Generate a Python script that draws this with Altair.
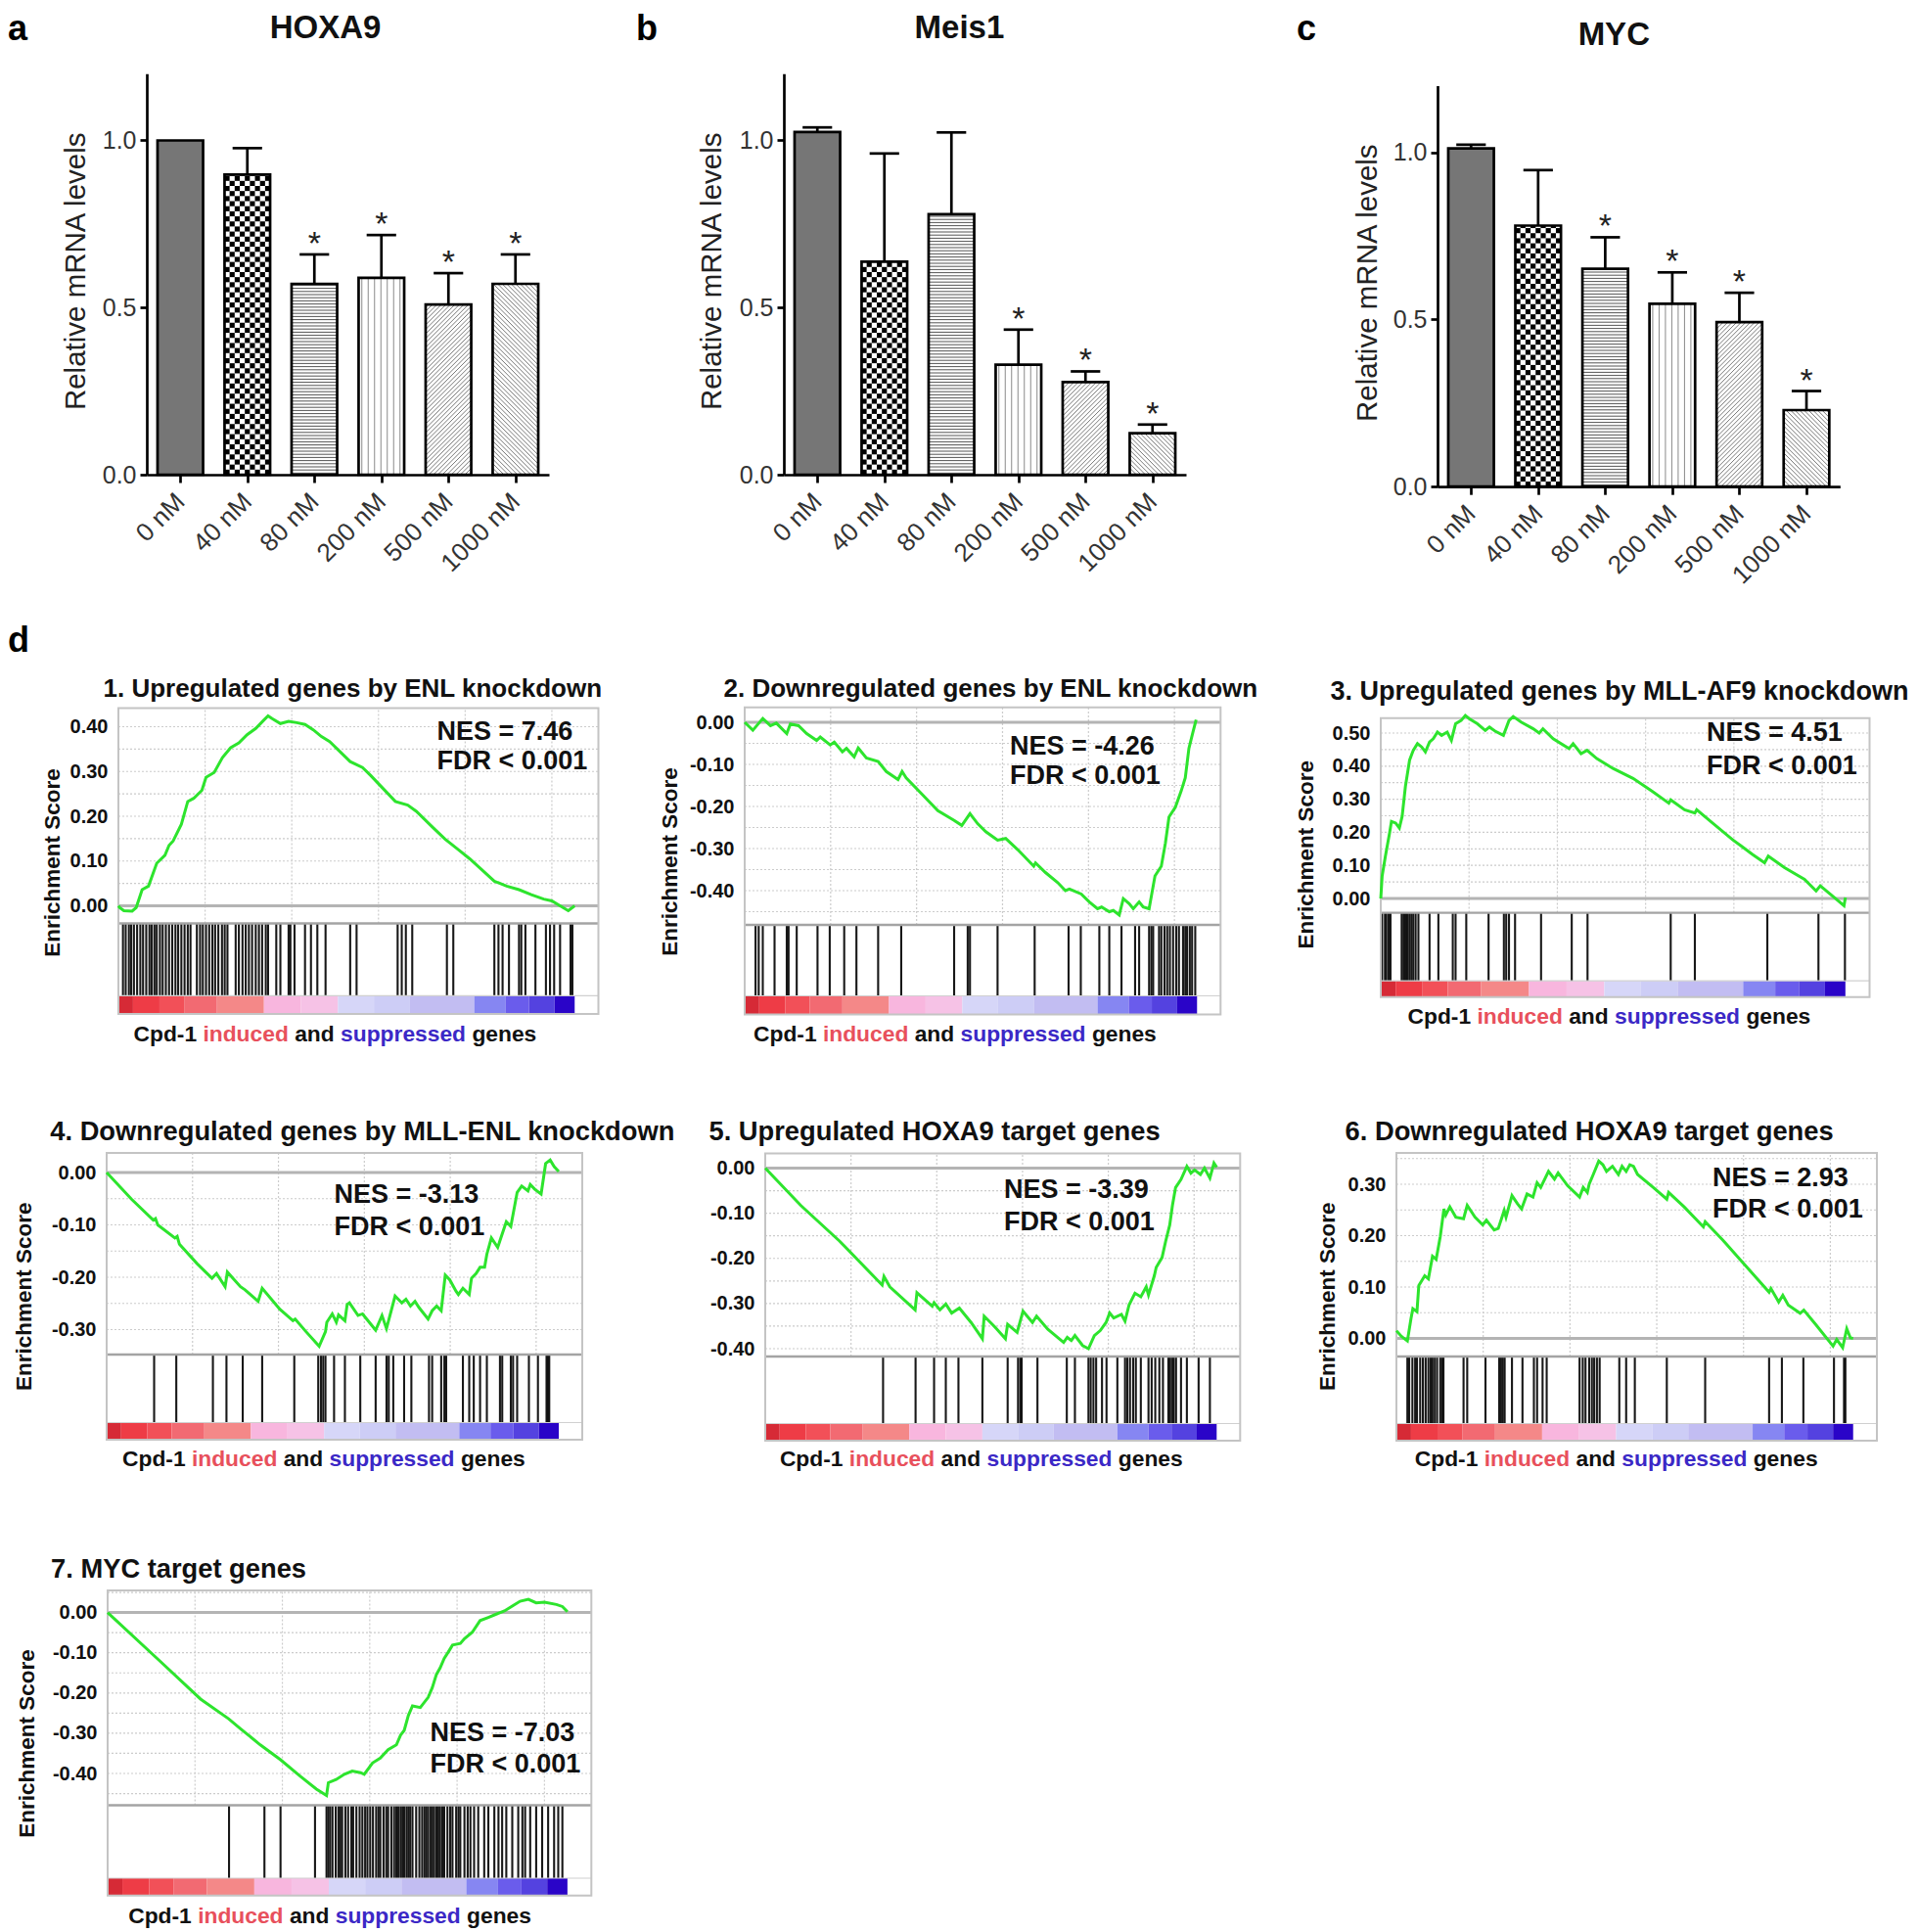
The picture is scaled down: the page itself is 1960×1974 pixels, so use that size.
import math
import altair as alt
import pandas as pd

FONT = "Liberation Sans"

# ---------------- panels a-c : qPCR bar charts ----------------
CONC = ["0 nM", "40 nM", "80 nM", "200 nM", "500 nM", "1000 nM"]
HOXA9_MEAN = [1.0, 0.898, 0.571, 0.589, 0.509, 0.571]
HOXA9_TOP = [1.0, 0.977, 0.659, 0.717, 0.603, 0.659]
HOXA9_SIG = [False, False, True, True, True, True]
MEIS1_MEAN = [1.025, 0.637, 0.779, 0.329, 0.277, 0.124]
MEIS1_TOP = [1.039, 0.961, 1.024, 0.434, 0.309, 0.150]
MEIS1_SIG = [False, False, False, True, True, True]
MYC_MEAN = [1.012, 0.781, 0.652, 0.547, 0.492, 0.229]
MYC_TOP = [1.023, 0.947, 0.746, 0.641, 0.580, 0.286]
MYC_SIG = [False, False, True, True, True, True]
BAR_YTICKS = [0.0, 0.5, 1.0]

# ---------------- panel d : GSEA running enrichment scores ----------------
G1_X = [0, 0.003, 0.012, 0.030, 0.039, 0.052, 0.066, 0.084, 0.102, 0.111, 0.120, 0.138, 0.152, 0.165, 0.183, 0.192, 0.210, 0.228, 0.246, 0.264, 0.282, 0.301, 0.319, 0.328, 0.337, 0.355, 0.373, 0.391, 0.409, 0.427, 0.445, 0.463, 0.481, 0.508, 0.535, 0.553, 0.580, 0.607, 0.634, 0.653, 0.689, 0.716, 0.743, 0.770, 0.797, 0.824, 0.851, 0.878, 0.905, 0.932, 0.950, 0.968, 0.986, 1.000]
G1_ES = [0, -0.004, -0.011, -0.012, -0.004, 0.036, 0.044, 0.095, 0.113, 0.135, 0.145, 0.182, 0.233, 0.240, 0.258, 0.287, 0.298, 0.331, 0.353, 0.364, 0.382, 0.396, 0.415, 0.424, 0.418, 0.407, 0.412, 0.409, 0.405, 0.393, 0.378, 0.367, 0.349, 0.322, 0.309, 0.291, 0.262, 0.233, 0.225, 0.211, 0.175, 0.149, 0.127, 0.105, 0.080, 0.055, 0.044, 0.036, 0.025, 0.015, 0.011, 0.0, -0.011, 0.0]
G1_HITS = [0.010, 0.016, 0.023, 0.028, 0.034, 0.041, 0.048, 0.054, 0.061, 0.068, 0.073, 0.079, 0.084, 0.091, 0.097, 0.104, 0.111, 0.118, 0.125, 0.131, 0.138, 0.145, 0.152, 0.158, 0.172, 0.179, 0.185, 0.192, 0.199, 0.206, 0.212, 0.219, 0.227, 0.233, 0.239, 0.257, 0.264, 0.272, 0.279, 0.286, 0.293, 0.301, 0.308, 0.315, 0.323, 0.328, 0.346, 0.355, 0.373, 0.377, 0.386, 0.409, 0.422, 0.436, 0.454, 0.508, 0.522, 0.612, 0.621, 0.630, 0.644, 0.720, 0.734, 0.824, 0.833, 0.842, 0.856, 0.878, 0.883, 0.892, 0.914, 0.937, 0.946, 0.955, 0.968, 0.991, 0.995]

G2_X = [0, 0.018, 0.040, 0.057, 0.070, 0.093, 0.101, 0.119, 0.137, 0.159, 0.167, 0.189, 0.198, 0.216, 0.225, 0.242, 0.251, 0.269, 0.295, 0.313, 0.339, 0.348, 0.357, 0.392, 0.427, 0.463, 0.480, 0.498, 0.515, 0.533, 0.559, 0.577, 0.604, 0.639, 0.643, 0.665, 0.692, 0.709, 0.718, 0.744, 0.762, 0.780, 0.789, 0.806, 0.815, 0.828, 0.837, 0.850, 0.859, 0.872, 0.881, 0.894, 0.907, 0.921, 0.930, 0.938, 0.952, 0.965, 0.974, 0.982, 0.991, 0.998]
G2_ES = [0, -0.019, 0.009, -0.008, -0.002, -0.027, -0.004, -0.008, -0.027, -0.043, -0.035, -0.054, -0.047, -0.070, -0.062, -0.082, -0.061, -0.085, -0.093, -0.117, -0.136, -0.117, -0.132, -0.171, -0.210, -0.233, -0.245, -0.217, -0.241, -0.260, -0.280, -0.276, -0.303, -0.342, -0.334, -0.357, -0.381, -0.400, -0.396, -0.408, -0.427, -0.443, -0.439, -0.450, -0.447, -0.458, -0.419, -0.431, -0.443, -0.427, -0.439, -0.443, -0.365, -0.342, -0.287, -0.225, -0.202, -0.163, -0.132, -0.062, -0.023, 0.006]
G2_HITS = [0.024, 0.031, 0.040, 0.066, 0.093, 0.097, 0.115, 0.161, 0.188, 0.220, 0.247, 0.295, 0.346, 0.463, 0.493, 0.498, 0.559, 0.641, 0.716, 0.743, 0.784, 0.806, 0.833, 0.863, 0.872, 0.894, 0.899, 0.903, 0.916, 0.921, 0.928, 0.934, 0.940, 0.947, 0.954, 0.960, 0.969, 0.974, 0.978, 0.984, 0.989, 0.996]

G3_X = [0, 0.003, 0.010, 0.019, 0.023, 0.032, 0.040, 0.046, 0.053, 0.062, 0.070, 0.079, 0.088, 0.096, 0.105, 0.113, 0.122, 0.131, 0.143, 0.152, 0.161, 0.173, 0.182, 0.191, 0.208, 0.225, 0.234, 0.246, 0.264, 0.276, 0.285, 0.302, 0.328, 0.341, 0.349, 0.371, 0.405, 0.414, 0.431, 0.444, 0.465, 0.500, 0.543, 0.585, 0.620, 0.624, 0.654, 0.676, 0.680, 0.714, 0.757, 0.800, 0.826, 0.834, 0.869, 0.912, 0.937, 0.946, 0.972, 0.997, 1.0]
G3_ES = [0, 0.068, 0.128, 0.198, 0.233, 0.228, 0.213, 0.248, 0.338, 0.418, 0.448, 0.468, 0.458, 0.443, 0.473, 0.483, 0.503, 0.493, 0.503, 0.478, 0.528, 0.538, 0.553, 0.543, 0.528, 0.508, 0.518, 0.506, 0.493, 0.538, 0.550, 0.533, 0.513, 0.500, 0.513, 0.483, 0.453, 0.468, 0.438, 0.448, 0.423, 0.393, 0.363, 0.323, 0.288, 0.298, 0.268, 0.258, 0.268, 0.228, 0.178, 0.133, 0.108, 0.128, 0.093, 0.058, 0.023, 0.038, 0.008, -0.022, 0.003]
G3_HITS = [0.003, 0.009, 0.012, 0.017, 0.021, 0.045, 0.049, 0.052, 0.055, 0.058, 0.062, 0.066, 0.070, 0.075, 0.081, 0.105, 0.124, 0.155, 0.161, 0.184, 0.232, 0.265, 0.270, 0.276, 0.289, 0.345, 0.411, 0.445, 0.624, 0.676, 0.832, 0.942, 0.999]

G4_X = [0, 0.055, 0.103, 0.108, 0.113, 0.151, 0.156, 0.161, 0.200, 0.233, 0.243, 0.262, 0.267, 0.296, 0.306, 0.335, 0.344, 0.383, 0.412, 0.417, 0.441, 0.470, 0.484, 0.487, 0.499, 0.508, 0.513, 0.527, 0.532, 0.537, 0.556, 0.566, 0.595, 0.609, 0.619, 0.638, 0.653, 0.662, 0.672, 0.682, 0.691, 0.711, 0.720, 0.730, 0.740, 0.749, 0.759, 0.773, 0.778, 0.788, 0.802, 0.807, 0.817, 0.826, 0.836, 0.841, 0.851, 0.865, 0.884, 0.894, 0.908, 0.918, 0.932, 0.937, 0.947, 0.961, 0.971, 0.981, 0.990, 1.0]
G4_ES = [0, -0.051, -0.091, -0.088, -0.100, -0.125, -0.122, -0.137, -0.174, -0.202, -0.193, -0.218, -0.190, -0.218, -0.224, -0.246, -0.221, -0.261, -0.283, -0.280, -0.304, -0.332, -0.304, -0.286, -0.270, -0.286, -0.272, -0.283, -0.252, -0.249, -0.273, -0.270, -0.301, -0.273, -0.298, -0.236, -0.249, -0.242, -0.255, -0.246, -0.258, -0.280, -0.264, -0.255, -0.264, -0.196, -0.205, -0.227, -0.233, -0.221, -0.233, -0.202, -0.193, -0.181, -0.181, -0.156, -0.125, -0.143, -0.094, -0.103, -0.038, -0.026, -0.035, -0.023, -0.032, -0.041, 0.017, 0.024, 0.011, 0.002]
G4_HITS = [0.105, 0.154, 0.235, 0.265, 0.301, 0.344, 0.415, 0.468, 0.474, 0.479, 0.484, 0.503, 0.527, 0.561, 0.595, 0.619, 0.624, 0.634, 0.658, 0.674, 0.713, 0.720, 0.740, 0.747, 0.751, 0.788, 0.802, 0.812, 0.826, 0.841, 0.870, 0.875, 0.894, 0.899, 0.908, 0.934, 0.954, 0.973, 0.976, 0.979]

G5_X = [0, 0.079, 0.165, 0.259, 0.263, 0.276, 0.332, 0.336, 0.370, 0.374, 0.387, 0.400, 0.413, 0.430, 0.456, 0.481, 0.485, 0.507, 0.532, 0.537, 0.558, 0.571, 0.592, 0.601, 0.626, 0.661, 0.669, 0.678, 0.686, 0.703, 0.716, 0.729, 0.742, 0.755, 0.763, 0.772, 0.789, 0.797, 0.806, 0.819, 0.832, 0.844, 0.849, 0.862, 0.866, 0.879, 0.887, 0.896, 0.902, 0.909, 0.921, 0.934, 0.943, 0.951, 0.964, 0.973, 0.985, 0.994, 1.0]
G5_ES = [0, -0.083, -0.162, -0.259, -0.240, -0.263, -0.314, -0.276, -0.306, -0.298, -0.314, -0.301, -0.321, -0.310, -0.342, -0.378, -0.328, -0.350, -0.378, -0.346, -0.364, -0.317, -0.342, -0.328, -0.357, -0.386, -0.375, -0.382, -0.371, -0.393, -0.400, -0.371, -0.360, -0.342, -0.321, -0.332, -0.324, -0.339, -0.303, -0.277, -0.285, -0.263, -0.281, -0.238, -0.220, -0.198, -0.162, -0.126, -0.083, -0.043, -0.025, 0.004, -0.011, -0.004, -0.014, 0.0, -0.022, 0.011, 0.002]
G5_HITS = [0.261, 0.333, 0.374, 0.400, 0.428, 0.481, 0.537, 0.560, 0.565, 0.568, 0.603, 0.668, 0.686, 0.716, 0.721, 0.727, 0.733, 0.746, 0.756, 0.780, 0.797, 0.802, 0.808, 0.815, 0.821, 0.832, 0.849, 0.856, 0.864, 0.873, 0.881, 0.893, 0.897, 0.902, 0.905, 0.910, 0.921, 0.934, 0.960, 0.985]

G6_X = [0, 0.011, 0.024, 0.032, 0.036, 0.045, 0.049, 0.062, 0.070, 0.079, 0.087, 0.096, 0.104, 0.108, 0.117, 0.130, 0.147, 0.155, 0.172, 0.189, 0.197, 0.214, 0.223, 0.236, 0.240, 0.253, 0.265, 0.274, 0.286, 0.299, 0.308, 0.316, 0.333, 0.346, 0.354, 0.375, 0.401, 0.409, 0.418, 0.422, 0.431, 0.443, 0.452, 0.460, 0.473, 0.486, 0.494, 0.503, 0.511, 0.519, 0.528, 0.562, 0.592, 0.596, 0.630, 0.672, 0.676, 0.714, 0.765, 0.816, 0.820, 0.837, 0.846, 0.858, 0.884, 0.892, 0.918, 0.956, 0.964, 0.977, 0.986, 0.994, 1.0]
G6_ES = [0.015, 0.004, -0.005, 0.039, 0.058, 0.052, 0.103, 0.122, 0.116, 0.160, 0.154, 0.198, 0.252, 0.240, 0.256, 0.236, 0.233, 0.259, 0.236, 0.221, 0.230, 0.211, 0.214, 0.249, 0.236, 0.278, 0.262, 0.252, 0.281, 0.275, 0.303, 0.294, 0.325, 0.310, 0.322, 0.297, 0.275, 0.294, 0.284, 0.300, 0.319, 0.345, 0.338, 0.325, 0.335, 0.319, 0.335, 0.325, 0.338, 0.335, 0.319, 0.294, 0.271, 0.284, 0.256, 0.217, 0.227, 0.192, 0.141, 0.090, 0.097, 0.071, 0.084, 0.065, 0.049, 0.055, 0.027, -0.015, -0.002, -0.018, 0.019, 0.001, 0.0]
G6_HITS = [0.024, 0.028, 0.035, 0.041, 0.045, 0.052, 0.058, 0.064, 0.070, 0.075, 0.079, 0.084, 0.089, 0.096, 0.100, 0.103, 0.147, 0.155, 0.195, 0.225, 0.229, 0.233, 0.237, 0.253, 0.276, 0.301, 0.308, 0.320, 0.329, 0.401, 0.408, 0.414, 0.422, 0.428, 0.433, 0.439, 0.445, 0.488, 0.503, 0.522, 0.592, 0.676, 0.816, 0.844, 0.891, 0.958, 0.980, 0.983]

G7_X = [0, 0.115, 0.202, 0.263, 0.289, 0.332, 0.376, 0.419, 0.454, 0.476, 0.480, 0.497, 0.515, 0.532, 0.550, 0.558, 0.576, 0.593, 0.610, 0.628, 0.637, 0.645, 0.654, 0.663, 0.680, 0.697, 0.706, 0.715, 0.723, 0.732, 0.741, 0.750, 0.767, 0.776, 0.793, 0.810, 0.828, 0.845, 0.863, 0.880, 0.897, 0.915, 0.932, 0.950, 0.976, 0.989, 1.0]
G7_ES = [0, -0.122, -0.215, -0.264, -0.289, -0.329, -0.366, -0.407, -0.439, -0.455, -0.423, -0.415, -0.402, -0.394, -0.398, -0.402, -0.374, -0.362, -0.341, -0.329, -0.305, -0.293, -0.256, -0.232, -0.236, -0.211, -0.187, -0.154, -0.138, -0.114, -0.098, -0.081, -0.077, -0.065, -0.049, -0.020, -0.012, -0.004, 0.004, 0.016, 0.028, 0.033, 0.024, 0.026, 0.020, 0.015, 0.002]
G7_HITS = [0.264, 0.341, 0.376, 0.451, 0.476, 0.480, 0.484, 0.489, 0.496, 0.502, 0.506, 0.510, 0.517, 0.523, 0.530, 0.534, 0.541, 0.548, 0.554, 0.560, 0.565, 0.571, 0.577, 0.584, 0.589, 0.593, 0.600, 0.606, 0.610, 0.617, 0.623, 0.628, 0.632, 0.637, 0.641, 0.645, 0.650, 0.654, 0.658, 0.663, 0.671, 0.678, 0.684, 0.689, 0.693, 0.697, 0.702, 0.706, 0.710, 0.715, 0.719, 0.723, 0.728, 0.732, 0.739, 0.745, 0.750, 0.758, 0.763, 0.767, 0.776, 0.783, 0.789, 0.797, 0.806, 0.819, 0.828, 0.841, 0.850, 0.858, 0.867, 0.880, 0.893, 0.902, 0.908, 0.919, 0.932, 0.945, 0.958, 0.971, 0.980, 0.989]

GSEA_TITLES = ["1. Upregulated genes by ENL knockdown", "2. Downregulated genes by ENL knockdown",
               "3. Upregulated genes by MLL-AF9 knockdown", "4. Downregulated genes by MLL-ENL knockdown",
               "5. Upregulated HOXA9 target genes", "6. Downregulated HOXA9 target genes", "7. MYC target genes"]
NES = ["7.46", "-4.26", "4.51", "-3.13", "-3.39", "2.93", "-7.03"]
FDR = "FDR < 0.001"

# ranked-list colour bar (fraction of ranked list)
CB_START = [0.000, 0.032, 0.090, 0.144, 0.216, 0.319, 0.400, 0.481, 0.560, 0.639, 0.780, 0.849, 0.900, 0.956]
CB_END = [0.032, 0.090, 0.144, 0.216, 0.319, 0.400, 0.481, 0.560, 0.639, 0.780, 0.849, 0.900, 0.956, 1.000]
CB_COLOR = ["#d62a36", "#ee3c46", "#f25058", "#f26a72", "#f48888", "#f8b6de", "#f6c2e6", "#d6d6f8",
            "#cdcdf6", "#c2bdf2", "#8686f2", "#6a5cec", "#5442e0", "#2a04c8"]
XL_WORDS = ["Cpd-1", "induced", "and", "suppressed", "genes"]
XL_COLORS = ["#111111", "#e8505c", "#111111", "#3b28c6", "#111111"]

# ====================================================================
PAGE0 = 8.0          # page margin
PXY = 341.5          # px per 1.0 relative mRNA
HALF = 0.34          # half bar width (x units)
CAP = 0.22           # half cap width
XMAX = 1.052         # GSEA frame extends beyond last rank
VGRID = [0.19, 0.38, 0.57, 0.76, 0.95]
LETTER_FS = 36

AW = {'C': 722, 'p': 611, 'd': 611, '-': 333, '1': 556, ' ': 278, 'i': 278, 'n': 611, 'u': 611,
      'c': 556, 'e': 556, 'a': 556, 's': 556, 'r': 389, 'g': 611}


def tw(s, fs):
    return sum(AW.get(ch, 556) for ch in s) * fs / 1000.0


def text_layer(txt, x, y, size, weight="bold", align="left", color="#111111", clip=False, baseline="alphabetic"):
    return alt.Chart(pd.DataFrame({"t": [txt]})).mark_text(
        font=FONT, fontSize=size, fontWeight=weight, align=align, baseline=baseline, color=color, clip=clip
    ).encode(x=alt.value(x), y=alt.value(y), text="t:N")


def spacer(w, h, letter="", lx=0, ly=0):
    return text_layer(letter, lx, ly, LETTER_FS, clip=True, color="black").properties(width=w, height=h)


# ---------------- bar chart builder ----------------
BARS = [
    dict(title="HOXA9", mean=HOXA9_MEAN, top=HOXA9_TOP, sig=HOXA9_SIG, L=150, R=561, y0=485,
         tx=332.5, tb=39, ytx=77.9, yty=276.8),
    dict(title="Meis1", mean=MEIS1_MEAN, top=MEIS1_TOP, sig=MEIS1_SIG, L=801, R=1212, y0=485,
         tx=980.4, tb=39, ytx=727.9, yty=276.8),
    dict(title="MYC", mean=MYC_MEAN, top=MYC_TOP, sig=MYC_SIG, L=1468.7, R=1880, y0=497.2,
         tx=1649, tb=46, ytx=1396.8, yty=288.7),
]


def hatch_rows(means, px_x):
    rects, lines = [], []
    # 40 nM : checkerboard
    i = 1
    left = i - HALF
    W = 2 * HALF * px_x
    H = means[i] * PXY
    ncol = 9
    cw = W / ncol
    nrow = int(math.ceil(H / cw))
    for r in range(nrow):
        for c in range(ncol):
            if (r + c) % 2 == 0:
                y1 = r * cw
                y2 = min(H, (r + 1) * cw)
                rects.append(dict(x=left + c * cw / px_x, x2=left + (c + 1) * cw / px_x, y=y1 / PXY, y2=y2 / PXY))
    # 80 nM : horizontal lines
    i = 2
    left, right = i - HALF, i + HALF
    H = means[i] * PXY
    v = 1.6
    while v < H - 0.5:
        lines.append(dict(x=left, x2=right, y=v / PXY, y2=v / PXY, c="#555555"))
        v += 3.2
    # 200 nM : vertical lines
    i = 3
    left = i - HALF
    W = 2 * HALF * px_x
    H = means[i] * PXY
    u = 3.3
    while u < W - 0.5:
        lines.append(dict(x=left + u / px_x, x2=left + u / px_x, y=0, y2=H / PXY, c="#8a8a8a"))
        u += 6.5
    # 500 nM : '/' hatch ; 1000 nM : '\' hatch
    for i, kind in ((4, "up"), (5, "down")):
        left = i - HALF
        W = 2 * HALF * px_x
        H = means[i] * PXY
        s = 4.6
        if kind == "up":
            c = -H + s / 2
            while c < W:
                u1, u2 = max(0.0, c), min(W, H + c)
                if u2 > u1:
                    lines.append(dict(x=left + u1 / px_x, x2=left + u2 / px_x,
                                      y=(u1 - c) / PXY, y2=(u2 - c) / PXY, c="#7a7a7a"))
                c += s
        else:
            c = s / 2
            while c < W + H:
                u1, u2 = max(0.0, c - H), min(W, c)
                if u2 > u1:
                    lines.append(dict(x=left + u1 / px_x, x2=left + u2 / px_x,
                                      y=(c - u1) / PXY, y2=(c - u2) / PXY, c="#7a7a7a"))
                c += s
    return pd.DataFrame(rects), pd.DataFrame(lines)


def bar_chart(b):
    W = b["R"] - b["L"]
    H = b["y0"] - PAGE0
    px_x = W / 6.0
    xs = alt.Scale(domain=[-0.5, 5.5], nice=False, zero=False)
    ys = alt.Scale(domain=[0, 1.2], range=[H, H - 1.2 * PXY], nice=False, zero=False)
    lab = "[" + ",".join("'%s'" % c for c in CONC) + "][datum.value]"
    xaxis = alt.Axis(values=list(range(6)), labelExpr=lab, labelAngle=315, labelAlign="right",
                     labelBaseline="middle", labelFont=FONT, labelFontSize=26, labelColor="#333333",
                     labelPadding=15, labelFlush=False, labelOverlap=False, tickSize=8, tickWidth=2.7,
                     tickColor="black", domainColor="black", domainWidth=2.7, grid=False, title=None)
    yaxis = alt.Axis(values=BAR_YTICKS, format=".1f", labelFont=FONT, labelFontSize=25, labelColor="#333333",
                     labelPadding=4, tickSize=7, tickWidth=2.7, tickColor="black", domainColor="black",
                     domainWidth=2.7, grid=False, title="Relative mRNA levels", titleFont=FONT,
                     titleFontSize=29.5, titleFontWeight="normal", titleColor="#222222",
                     titleX=b["ytx"] - b["L"], titleY=b["yty"] - PAGE0, titleAngle=270,
                     titleAlign="center", titleBaseline="middle")

    def X(f):
        return alt.X(f + ":Q", scale=xs, axis=xaxis)

    def Y(f):
        return alt.Y(f + ":Q", scale=ys, axis=yaxis)

    df = pd.DataFrame({"pos": list(range(6)), "mean": b["mean"], "top": b["top"], "sig": b["sig"],
                       "fill": ["#767676", "white", "white", "white", "white", "white"]})
    base = alt.Chart(df).transform_calculate(
        xl="datum.pos - %f" % HALF, xr="datum.pos + %f" % HALF,
        cl="datum.pos - %f" % CAP, cr="datum.pos + %f" % CAP, zero="0")
    fill = base.mark_rect(strokeWidth=0).encode(x=X("xl"), x2="xr", y=Y("zero"), y2="mean",
                                                fill=alt.Fill("fill:N", scale=None))
    rects, lines = hatch_rows(b["mean"], px_x)
    checker = alt.Chart(rects).mark_rect(color="black", strokeWidth=0).encode(
        x=X("x"), x2="x2", y=Y("y"), y2="y2")
    hatch = alt.Chart(lines).mark_rule(strokeWidth=1).encode(
        x=X("x"), x2="x2", y=Y("y"), y2="y2", stroke=alt.Stroke("c:N", scale=None))
    outline = base.mark_rect(fill="transparent", stroke="black", strokeWidth=2.7).encode(
        x=X("xl"), x2="xr", y=Y("zero"), y2="mean")
    eb = base.transform_filter("datum.top > datum.mean + 0.002")
    err = eb.mark_rule(color="black", strokeWidth=2.7).encode(x=X("pos"), y=Y("mean"), y2="top")
    cap = eb.mark_rule(color="black", strokeWidth=2.7).encode(x=X("cl"), x2="cr", y=Y("top"))
    stars = base.transform_filter("datum.sig").mark_text(
        text="*", font=FONT, fontSize=34, align="center", baseline="alphabetic", color="#222222"
    ).encode(x=X("pos"), y=Y("top"))
    title = text_layer(b["title"], b["tx"] - b["L"], b["tb"] - PAGE0, 33, align="center", color="#111111")
    return alt.layer(fill, checker, hatch, outline, err, cap, stars, title).properties(width=W, height=H)


# ---------------- GSEA builder ----------------
GS = [
    dict(x=G1_X, es=G1_ES, hits=G1_HITS, L=120.5, R=611, T=722.5, ESb=942.5, Hb=1016.3, Cb=1035, row=600,
         t1=(0.4, 741.5), t0=(0.0, 924.5), yt=[0, 0.1, 0.2, 0.3, 0.4], tx=105.0, tb=711, tfs=26,
         nx=446, nb=754.7, fb=784.7, xlx=136, xlb=1063, est=(52.6, 880)),
    dict(x=G2_X, es=G2_ES, hits=G2_HITS, L=760, R=1246.3, T=721.7, ESb=944, Hb=1016.5, Cb=1035.5, row=600,
         t1=(-0.4, 909), t0=(0.0, 737), yt=[0, -0.1, -0.2, -0.3, -0.4], tx=738.5, tb=711, tfs=26,
         nx=1031, nb=769.7, fb=799.7, xlx=769, xlb=1063, est=(683, 879)),
    dict(x=G3_X, es=G3_ES, hits=G3_HITS, L=1409, R=1908.5, T=732.7, ESb=931.6, Hb=1001.2, Cb=1017.7, row=600,
         t1=(0.5, 748), t0=(0.0, 917), yt=[0, 0.1, 0.2, 0.3, 0.4, 0.5], tx=1357.5, tb=713.5, tfs=27,
         nx=1742, nb=756.4, fb=789.7, xlx=1436.5, xlb=1045, est=(1332, 871.7)),
    dict(x=G4_X, es=G4_ES, hits=G4_HITS, L=109, R=595, T=1177, ESb=1383, Hb=1452.5, Cb=1470, row=1110,
         t1=(-0.3, 1357.5), t0=(0.0, 1197), yt=[0, -0.1, -0.2, -0.3], tx=51.3, tb=1164, tfs=27.3,
         nx=341.5, nb=1228, fb=1261.4, xlx=125, xlb=1497, est=(24.6, 1323.3)),
    dict(x=G5_X, es=G5_ES, hits=G5_HITS, L=782, R=1267.3, T=1177.5, ESb=1385, Hb=1453.5, Cb=1471, row=1110,
         t1=(-0.4, 1377), t0=(0.0, 1192.5), yt=[0, -0.1, -0.2, -0.3, -0.4], tx=724.5, tb=1164, tfs=27.3,
         nx=1026, nb=1223, fb=1256.4, xlx=796.9, xlb=1497, est=None),
    dict(x=G6_X, es=G6_ES, hits=G6_HITS, L=1426, R=1917, T=1177, ESb=1385, Hb=1453.5, Cb=1471, row=1110,
         t1=(0.3, 1209), t0=(0.0, 1366.5), yt=[0, 0.1, 0.2, 0.3], tx=1373.6, tb=1164, tfs=27.3,
         nx=1749, nb=1211.4, fb=1243, xlx=1444.8, xlb=1497, est=(1355.8, 1323.3)),
    dict(x=G7_X, es=G7_ES, hits=G7_HITS, L=109.4, R=603.7, T=1624, ESb=1843.5, Hb=1918, Cb=1935.8, row=1560,
         t1=(-0.4, 1811), t0=(0.0, 1646.6), yt=[0, -0.1, -0.2, -0.3, -0.4], tx=51.5, tb=1611, tfs=27.3,
         nx=438.8, nb=1778, fb=1809.7, xlx=130.6, xlb=1964, est=(26.5, 1780)),
]


def gsea_chart(k):
    p = GS[k]
    L, row = p["L"], p["row"]
    W = p["R"] - L

    def rel(v):
        return v - row

    T, ESb, Hb, Cb = rel(p["T"]), rel(p["ESb"]), rel(p["Hb"]), rel(p["Cb"])
    lo, hi = sorted([p["t1"], p["t0"]])
    es_scale = alt.Scale(domain=[lo[0], hi[0]], range=[rel(lo[1]), rel(hi[1])], nice=False, zero=False)
    v_scale = alt.Scale(domain=[0, 1], range=[Cb, T], nice=False, zero=False)
    x_scale = alt.Scale(domain=[0, XMAX], range=[0, W], nice=False, zero=False)
    esb_f = (Cb - ESb) / (Cb - T)
    cbt_f = (Cb - Hb) / (Cb - T)

    def es_px(v):
        return rel(lo[1]) + (v - lo[0]) * (rel(hi[1]) - rel(lo[1])) / (hi[0] - lo[0])

    grid = [j * 0.05 for j in range(-12, 13) if j != 0 and T + 2 < es_px(j * 0.05) < ESb - 2]

    def X(f):
        return alt.X(f + ":Q", scale=x_scale, axis=None)

    def Ye(f, axis=None):
        return alt.Y(f + ":Q", scale=es_scale, axis=axis)

    def Yv(f):
        return alt.Y(f + ":Q", scale=v_scale, axis=None)

    cb = alt.Chart(pd.DataFrame({"x": CB_START, "x2": CB_END, "c": CB_COLOR, "v": 0.0, "v2": cbt_f})).mark_rect(
        strokeWidth=0).encode(x=X("x"), x2="x2", y=Yv("v"), y2="v2", fill=alt.Fill("c:N", scale=None))
    hits = alt.Chart(pd.DataFrame({"x": p["hits"], "v": cbt_f, "v2": esb_f})).mark_rule(
        color="#0c0c0c", strokeWidth=2.1, opacity=0.95).encode(x=X("x"), y=Yv("v"), y2="v2")
    vgrid = alt.Chart(pd.DataFrame({"x": VGRID, "v": esb_f, "v2": 1.0})).mark_rule(
        color="#cccccc", strokeWidth=1.2, strokeDash=[2, 2]).encode(x=X("x"), y=Yv("v"), y2="v2")
    hgrid = alt.Chart(pd.DataFrame({"y": grid, "x": 0.0, "x2": XMAX})).mark_rule(
        color="#cccccc", strokeWidth=1.2, strokeDash=[2, 2]).encode(x=X("x"), x2="x2", y=Ye("y"))
    zero = alt.Chart(pd.DataFrame({"y": [0.0], "x": [0.0], "x2": [XMAX]})).mark_rule(
        color="#b4b4b4", strokeWidth=3).encode(x=X("x"), x2="x2", y=Ye("y"))
    seps = alt.Chart(pd.DataFrame({"v": [esb_f, cbt_f], "x": 0.0, "x2": XMAX,
                                   "c": ["#a4a4a4", "#d0d0d0"], "w": [2.4, 1.2]})).mark_rule().encode(
        x=X("x"), x2="x2", y=Yv("v"), stroke=alt.Stroke("c:N", scale=None),
        strokeWidth=alt.StrokeWidth("w:Q", scale=None))
    frame = alt.Chart(pd.DataFrame({"x": [0.0], "x2": [XMAX], "v": [0.0], "v2": [1.0]})).mark_rect(
        fill="transparent", stroke="#c4c4c4", strokeWidth=2).encode(x=X("x"), x2="x2", y=Yv("v"), y2="v2")

    lab = "replace(format(datum.value, '.2f'), '\u2212', '-')"
    if p["est"] is not None:
        axis = alt.Axis(values=p["yt"], labelExpr=lab, labelFont=FONT, labelFontSize=20, labelFontWeight="bold",
                        labelColor="#111111", labelPadding=11, ticks=False, tickSize=0, domain=False, grid=False,
                        labelFlush=False, title="Enrichment Score", titleFont=FONT, titleFontSize=22.5,
                        titleFontWeight="bold", titleColor="#111111", titleX=p["est"][0] - L,
                        titleY=rel(p["est"][1]), titleAngle=270, titleAlign="center", titleBaseline="middle")
    else:
        axis = alt.Axis(values=p["yt"], labelExpr=lab, labelFont=FONT, labelFontSize=20, labelFontWeight="bold",
                        labelColor="#111111", labelPadding=11, ticks=False, tickSize=0, domain=False, grid=False,
                        labelFlush=False, title=None)
    curve = alt.Chart(pd.DataFrame({"x": p["x"], "es": p["es"]})).mark_line(
        color="#2de42d", strokeWidth=3).encode(x=X("x"), y=Ye("es", axis))

    texts = [
        text_layer("NES = " + NES[k], p["nx"] - L, rel(p["nb"]), 27),
        text_layer(FDR, p["nx"] - L, rel(p["fb"]), 27),
        text_layer(GSEA_TITLES[k], p["tx"] - L, rel(p["tb"]), p["tfs"]),
    ]
    fs = 22.8
    off = 0.0
    for w, c in zip(XL_WORDS, XL_COLORS):
        texts.append(text_layer(w, p["xlx"] - L + off, rel(p["xlb"]), fs, color=c))
        off += tw(w + " ", fs)

    layers = [vgrid, hgrid, zero, cb, hits, seps, frame, curve] + texts
    return alt.layer(*layers).resolve_scale(y="independent").properties(width=W, height=Cb)


# ---------------- assemble ----------------
bars = [bar_chart(b) for b in BARS]
g = [gsea_chart(k) for k in range(7)]

LET_Y = 41 - PAGE0   # letter baseline (kept fully inside the drawing)
row1 = alt.hconcat(
    spacer(BARS[0]["L"] - PAGE0, 592, "a", 0, LET_Y),
    bars[0],
    spacer(BARS[1]["L"] - BARS[0]["R"], 60, "b", 650 - BARS[0]["R"], LET_Y),
    bars[1],
    spacer(BARS[2]["L"] - BARS[1]["R"], 60, "c", 1325 - BARS[1]["R"], LET_Y),
    bars[2],
    spacing=0, bounds="flush")

row2 = alt.hconcat(
    spacer(GS[0]["L"] - PAGE0, 510, "d", 0, 65),
    g[0], spacer(GS[1]["L"] - GS[0]["R"], 10), g[1], spacer(GS[2]["L"] - GS[1]["R"], 10), g[2],
    spacing=0, bounds="flush")

row3 = alt.hconcat(
    spacer(GS[3]["L"] - PAGE0, 450),
    g[3], spacer(GS[4]["L"] - GS[3]["R"], 10), g[4], spacer(GS[5]["L"] - GS[4]["R"], 10), g[5],
    spacing=0, bounds="flush")

row4 = alt.hconcat(spacer(GS[6]["L"] - PAGE0, 406), g[6], spacing=0, bounds="flush")

chart = alt.vconcat(row1, row2, row3, row4, spacing=0).configure(
    padding=0, font=FONT).configure_view(stroke=None)

chart.save("out.html", embed_options={"renderer": "svg", "actions": False})
